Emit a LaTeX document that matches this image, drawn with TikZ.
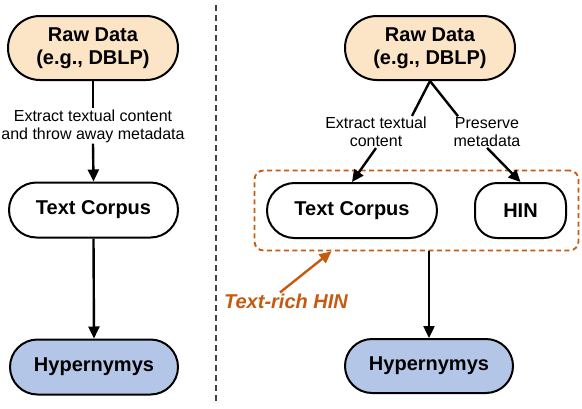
\documentclass[tikz,border=0pt]{standalone}
\usepackage{fontspec}
\setmainfont{Liberation Sans}
\usetikzlibrary{shapes.misc,arrows.meta,fit}
\definecolor{peach}{HTML}{FCE4C6}
\definecolor{lblue}{HTML}{B4C6E7}
\definecolor{rust}{HTML}{C55A11}
\begin{document}
\begin{tikzpicture}[x=1pt,y=-1pt,
 box/.style={rounded rectangle, draw, line width=2pt, inner sep=0pt, font=\fontsize{20}{22.5}\selectfont\bfseries, align=center},
 lab/.style={font=\fontsize{16}{18}\selectfont, align=center, inner sep=1pt},
 arr/.style={line width=2.4pt, -{Triangle[length=12pt,width=11pt]}},
 ln/.style={line width=2.4pt}]
\useasboundingbox (0,0) rectangle (582,408);
% divider
\coordinate (dtop) at (216,5);
\coordinate (dbot) at (216,403);
\draw[line width=1.5pt, black!75, dash pattern=on 6pt off 4pt] (dtop) -- (dbot);
% left
\node[box, fill=peach, minimum width=170pt, minimum height=64pt] (raw1) at (93,48) {Raw Data\\(e.g., DBLP)};
\node[lab] (lab1) at (93,126) {Extract textual content\\and throw away metadata};
\node[box, minimum width=169pt, minimum height=55pt] (tc1) at (93.5,210) {Text Corpus};
\node[box, fill=lblue, minimum width=168pt, minimum height=55pt] (hy1) at (94,367) {Hypernymys};
\draw[ln] (raw1.south) -- (lab1.north);
\draw[arr] (lab1.south) -- (tc1.north);
\draw[arr] (tc1.south) -- (hy1.north);
% right
\node[box, fill=peach, minimum width=170pt, minimum height=64pt] (raw2) at (430,48) {Raw Data\\(e.g., DBLP)};
\node[lab] (lab2) at (376,132) {Extract textual\\content};
\node[lab] (lab3) at (487,132) {Preserve\\metadata};
\node[box, minimum width=170pt, minimum height=55pt] (tc2) at (352,210.5) {Text Corpus};
\node[rectangle, rounded corners=22pt, draw, line width=2pt, inner sep=0pt, font=\fontsize{20}{22.5}\selectfont\bfseries, minimum width=91pt, minimum height=55pt] (hin) at (520.5,210.5) {HIN};
\node[fit=(tc2)(hin), draw=rust, line width=1.8pt, dash pattern=on 5pt off 3.5pt, rounded corners=9pt, inner sep=11.5pt] (grp) {};
\node[box, fill=lblue, minimum width=168pt, minimum height=54pt] (hy2) at (429,366) {Hypernymys};
\draw[ln] (raw2.south) -- ([xshift=36pt]lab2.north);
\draw[arr] (lab2.south) -- (tc2.north);
\draw[ln] (raw2.south) -- ([xshift=-29pt]lab3.north);
\draw[arr] (lab3.south) -- (hin.north);
\draw[arr] (hy2.north|-grp.south) -- (hy2.north);
\node[text=rust, font=\fontsize{20}{22}\selectfont\bfseries\itshape, inner sep=1pt] (trich) at (286,301) {Text-rich HIN};
\draw[rust, line width=2.4pt, -{Triangle[length=12pt,width=11pt]}] ([xshift=-6pt]trich.north) -- ([xshift=-85pt]grp.south);
\end{tikzpicture}
\end{document}
